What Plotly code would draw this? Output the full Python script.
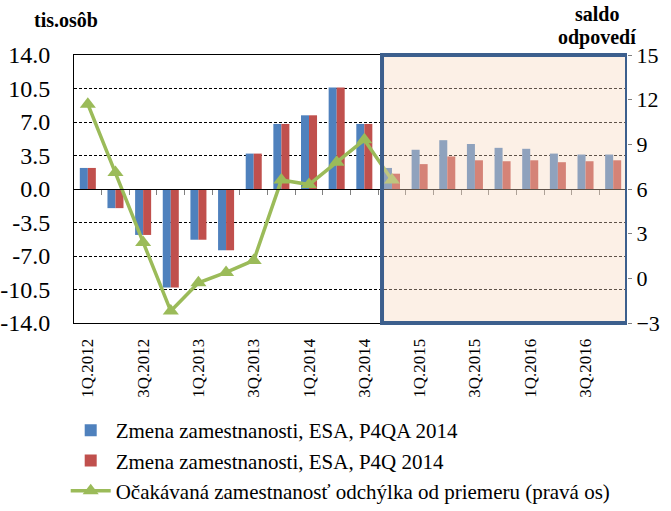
import plotly.graph_objects as go

quarters = ["1Q.2012", "2Q.2012", "3Q.2012", "4Q.2012",
            "1Q.2013", "2Q.2013", "3Q.2013", "4Q.2013",
            "1Q.2014", "2Q.2014", "3Q.2014", "4Q.2014",
            "1Q.2015", "2Q.2015", "3Q.2015", "4Q.2015",
            "1Q.2016", "2Q.2016", "3Q.2016", "4Q.2016"]
esa_p4qa = [2.2, -2.0, -4.8, -10.3, -5.3, -6.4, 3.7, 6.8, 7.7, 10.6, 6.8, 2.2,
            4.1, 5.1, 4.7, 4.3, 4.2, 3.7, 3.6, 3.6]
esa_p4q = [2.2, -2.0, -4.8, -10.3, -5.3, -6.4, 3.7, 6.8, 7.7, 10.6, 6.8, 1.6,
           2.6, 3.4, 3.0, 2.9, 3.0, 2.8, 2.9, 3.0]
expect_q = quarters[:12]
expect_vals = [11.7, 7.1, 2.4, -2.2, -0.3, 0.4, 1.2, 6.6, 6.3, 7.8, 9.3, 6.6]

left_ticks = [-14.0, -10.5, -7.0, -3.5, 0.0, 3.5, 7.0, 10.5, 14.0]
right_ticks = [-3, 0, 3, 6, 9, 12, 15]
label_ticks = quarters[::2]

FONT = "Times New Roman, Liberation Serif, serif"
BLUE = "#4F81BD"
RED = "#C0504D"
GREEN = "#9BBB59"

fig = go.Figure()
fig.add_trace(go.Bar(x=quarters, y=esa_p4qa, name="Zmena zamestnanosti, ESA, P4QA 2014",
                     marker_color=BLUE, marker_line_width=0))
fig.add_trace(go.Bar(x=quarters, y=esa_p4q, name="Zmena zamestnanosti, ESA, P4Q 2014",
                     marker_color=RED, marker_line_width=0))
fig.add_trace(go.Scatter(x=expect_q, y=expect_vals, yaxis="y2", mode="lines+markers",
                         name="Očakávaná zamestnanosť odchýlka od priemeru (pravá os)",
                         line=dict(color=GREEN, width=3.5),
                         marker=dict(symbol="triangle-up", size=14, color=GREEN)))
# invisible trace to carry the zero-line tick axis
fig.add_trace(go.Scatter(x=[0], y=[0], xaxis="x2", mode="markers",
                         marker=dict(opacity=0), showlegend=False, hoverinfo="skip"))

# shaded forecast box
fig.add_shape(type="rect", xref="x", yref="paper", x0=10.64, x1=19.5, y0=0, y1=1,
              fillcolor="rgba(247,215,190,0.38)", line_width=0, layer="above")
fig.add_shape(type="rect", xref="x", yref="paper", x0=10.64, x1=19.5, y0=0, y1=1,
              fillcolor="rgba(0,0,0,0)", line=dict(color="#3C5F8D", width=4), layer="above")

fig.update_layout(
    width=671, height=511,
    margin=dict(l=74, r=44, t=55, b=188, autoexpand=False),
    paper_bgcolor="white", plot_bgcolor="white",
    font=dict(family=FONT, color="black"),
    barmode="group", bargap=0.42, bargroupgap=0,
    showlegend=True,
    legend=dict(x=-0.015, y=1 - 410 / 511, xref="paper", yref="container",
                xanchor="left", yanchor="top",
                font=dict(size=21, family=FONT), tracegroupgap=0,
                itemwidth=40, bgcolor="rgba(0,0,0,0)"),
    xaxis=dict(type="category", categoryorder="array", categoryarray=quarters,
               range=[-0.5, 19.5], tickmode="array", tickvals=label_ticks,
               ticktext=label_ticks, tickangle=-90, tickfont=dict(size=17, family=FONT),
               showline=True, linecolor="black", mirror=True, ticks="",
               ticklabelstandoff=8, showgrid=False, automargin=False),
    xaxis2=dict(overlaying="x", anchor="free", position=0.5, range=[-0.5, 19.5],
                tickmode="array", tickvals=[i + 0.5 for i in range(19)],
                ticks="outside", ticklen=5, tickcolor="#808080",
                showticklabels=False, showline=True, linecolor="black",
                showgrid=False, zeroline=False, automargin=False),
    yaxis=dict(range=[-14, 14], tickmode="array", tickvals=left_ticks,
               ticktext=[f"{v:.1f}" for v in left_ticks], tickfont=dict(size=24, family=FONT),
               showline=True, linecolor="black", ticks="", ticklabelstandoff=18,
               showgrid=True, gridcolor="black", griddash="3px,2px", gridwidth=1,
               zeroline=False, automargin=False),
    yaxis2=dict(range=[-3, 15], overlaying="y", side="right", tickmode="array",
                tickvals=right_ticks, tickfont=dict(size=22, family=FONT), showgrid=False,
                ticks="outside", ticklen=4, tickcolor="#808080", zeroline=False,
                showline=False, automargin=False),
)

fig.add_annotation(text="<b>tis.osôb</b>", xref="paper", yref="paper", x=-0.015, y=1,
                   yshift=35, xanchor="center", yanchor="middle", showarrow=False,
                   font=dict(size=20, family=FONT))
fig.add_annotation(text="<b>saldo</b>", xref="paper", yref="paper", x=0.945,
                   y=1, yshift=41, xanchor="center", yanchor="middle", showarrow=False,
                   font=dict(size=20, family=FONT))
fig.add_annotation(text="<b>odpovedí</b>", xref="paper", yref="paper", x=0.945,
                   y=1, yshift=18, xanchor="center", yanchor="middle", showarrow=False,
                   font=dict(size=20, family=FONT))

fig.write_html("out.html", config={"displayModeBar": False},
               post_script="document.body.style.margin='0';")
